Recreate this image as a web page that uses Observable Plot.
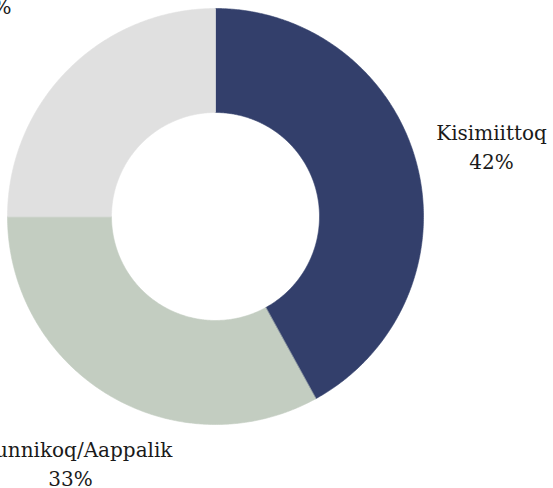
<!DOCTYPE html>
<html><head><meta charset="utf-8">
<script src="https://cdn.jsdelivr.net/npm/d3@7"></script>
<script src="https://cdn.jsdelivr.net/npm/@observablehq/plot@0.6"></script>
<style>html,body{margin:0;padding:0;background:#fff;overflow:hidden}</style>
</head><body><div id="chart"></div>
<script>
const categories = ["Kisimiittoq", "Akunnikoq/Aappalik", "Avannaata"];
const shares = [42, 33, 25];
const colors = ["#333f6b", "#c3cdc1", "#e0e0e0"];

const W = 553, H = 488, cx = 215, cy = 216, R = 208, r0 = 104;
const slices = d3.pie().sort(null).value(d => d.value)(
  categories.map((name, i) => ({name, value: shares[i], color: colors[i]}))
);

const pts = [];
slices.forEach((a, i) => {
  const n = Math.max(2, Math.ceil((a.endAngle - a.startAngle) / (Math.PI / 360)));
  for (let k = 0; k <= n; k++) {
    const t = a.startAngle + (a.endAngle - a.startAngle) * k / n;
    pts.push({slice: i, color: a.data.color, x: R * Math.sin(t), y: R * Math.cos(t)});
  }
  for (let k = n; k >= 0; k--) {
    const t = a.startAngle + (a.endAngle - a.startAngle) * k / n;
    pts.push({slice: i, color: a.data.color, x: r0 * Math.sin(t), y: r0 * Math.cos(t)});
  }
});

const labelDist = a => (a.index === 2 ? 320 : 285);
const mid = a => (a.startAngle + a.endAngle) / 2;

const chart = Plot.plot({
  width: W, height: H,
  margin: 0,
  x: {domain: [-cx, W - cx], axis: null},
  y: {domain: [cy - H, cy], axis: null},
  color: {type: "identity"},
  style: {background: "#fff", overflow: "visible"},
  marks: [
    Plot.line(pts, {x: "x", y: "y", z: "slice", fill: "color", stroke: "color", strokeWidth: 0.6, curve: "linear-closed"}),
    Plot.text(slices, {
      x: a => labelDist(a) * Math.sin(mid(a)),
      y: a => labelDist(a) * Math.cos(mid(a)),
      text: a => `${a.data.name}\n${a.data.value}%`,
      fontSize: 20, fontFamily: "DejaVu Serif", lineHeight: 1.45,
      fill: "#1a1a1a", textAnchor: "middle"
    })
  ]
});
document.getElementById("chart").append(chart);
</script>
</body></html>
